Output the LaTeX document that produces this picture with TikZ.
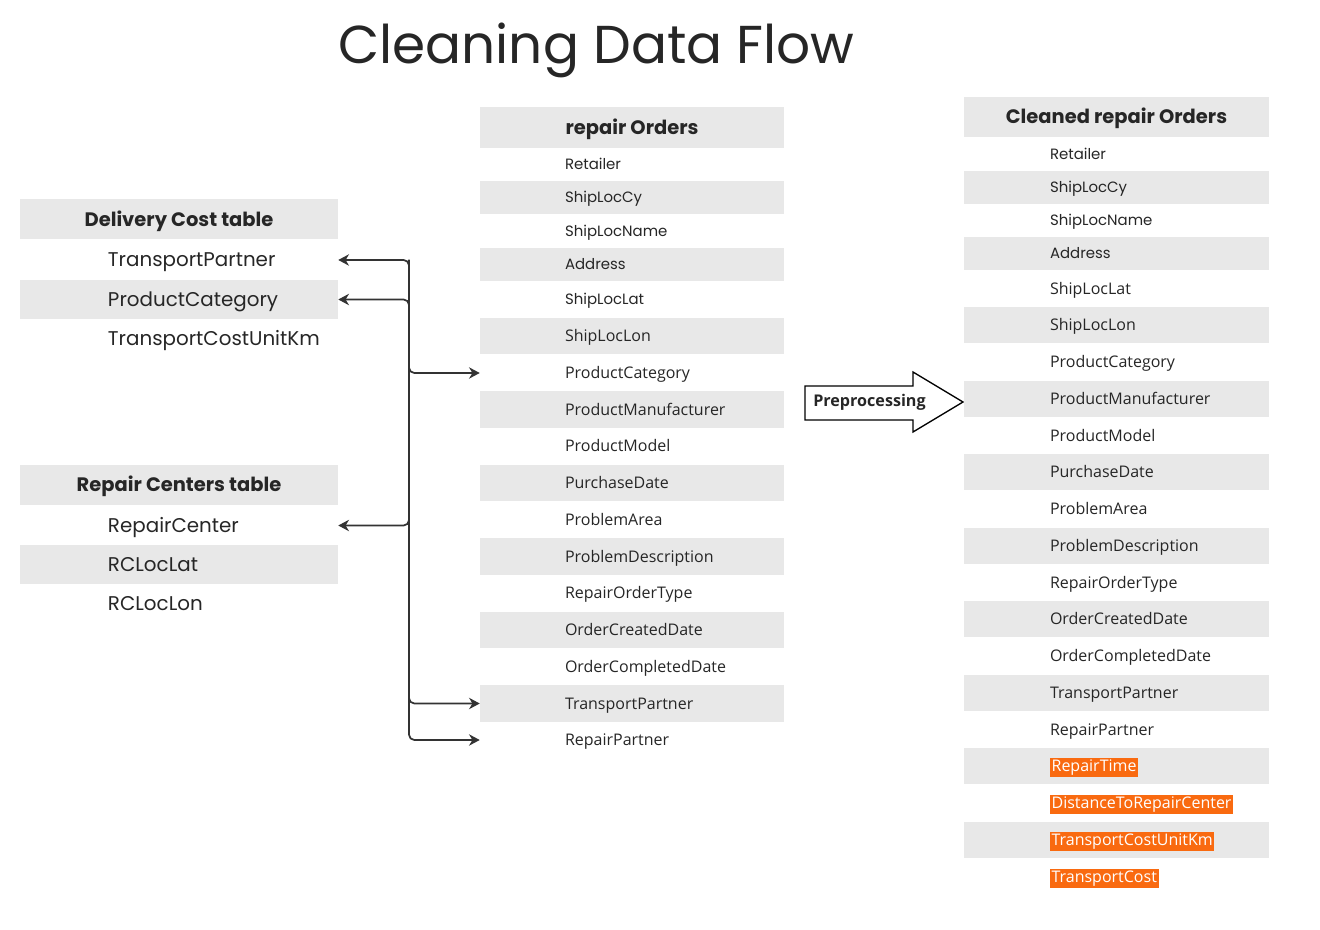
\documentclass[tikz,border=0pt]{standalone}
\usepackage{fontspec}
\setmainfont{Poppins}
\newfontfamily\osfont{Open Sans}
\usetikzlibrary{arrows.meta}
\definecolor{band}{HTML}{E8E8E8}
\definecolor{ink}{HTML}{262626}
\definecolor{hilite}{HTML}{F96A10}
\definecolor{wire}{HTML}{333333}
\newcommand{\hl}[1]{{\setlength{\fboxsep}{1.2pt}\colorbox{hilite}{\color{white}#1}}}

\begin{document}
\begin{tikzpicture}[x=0.75pt,y=-0.75pt,
  hdr/.style={fill=band, inner sep=0pt, minimum height=30pt, text=ink, text height=10.3pt, text depth=0pt, font=\bfseries\fontsize{14.6}{16}\selectfont},
  stripe/.style={fill=band},
  pop/.style={text=ink, text height=7.9pt, text depth=0pt, font=\fontsize{11.2}{13}\selectfont},
  os/.style={text=ink, text height=8.6pt, text depth=0pt, font=\osfont\fontsize{12}{14}\selectfont},
  big/.style={text=ink, text height=10.4pt, text depth=0pt, font=\fontsize{14.9}{16}\selectfont},
  mrow/.style={inner sep=0pt, minimum height=#1, execute at begin node={\hbox to 228pt\bgroup\hspace*{63.75pt}}, execute at end node={\hfil\egroup}},
  mrow/.default=27.5pt,
  rrow/.style={inner sep=0pt, minimum height=#1, execute at begin node={\hbox to 228.75pt\bgroup\hspace*{64.5pt}}, execute at end node={\hfil\egroup}},
  rrow/.default=27.5pt,
  lrow/.style={inner sep=0pt, minimum height=29.6pt, execute at begin node={\hbox to 238.5pt\bgroup\hspace*{66pt}}, execute at end node={\hfil\egroup}},
  flow/.style={draw=wire, line width=1.3pt, rounded corners=4pt, -{Stealth[length=8pt,width=8.5pt,inset=2.5pt]}}]
\useasboundingbox (0,0) rectangle (1320,930);

\node[anchor=base, text=ink, font=\fontsize{40}{44}\selectfont] (title) at (596.5,64) {Cleaning Data Flow};

\node[hdr, minimum width=238.5pt] (dhead) at (179,219.5) {Delivery Cost table};
\node[lrow, big] (dTP) at (179,260) {TransportPartner};
\node[lrow, big, stripe] (dPC) at (179,299.5) {ProductCategory};
\node[lrow, big] (dTC) at (179,339) {TransportCostUnitKm};

\node[hdr, minimum width=238.5pt] (chead) at (179,485) {Repair Centers table};
\node[lrow, big] (cRC) at (179,525.5) {RepairCenter};
\node[lrow, big, stripe] (cLat) at (179,564.5) {RCLocLat};
\node[lrow, big] (cLon) at (179,604) {RCLocLon};

\node[hdr, minimum width=228pt, minimum height=30.75pt] (mhead) at (632,127.5) {repair Orders};
\node[mrow=24.75pt, pop] (mRet) at (632,164.5) {Retailer};
\node[mrow=24.75pt, pop, stripe] (mCy) at (632,197.5) {ShipLocCy};
\node[mrow=24.75pt, pop] (mName) at (632,231) {ShipLocName};
\node[mrow=24.75pt, pop, stripe] (mAdr) at (632,264.5) {Address};
\node[mrow, pop] (mLat) at (632,299.5) {ShipLocLat};
\node[mrow, os, stripe] (mLon) at (632,336) {ShipLocLon};
\node[mrow, os] (mPC) at (632,373) {ProductCategory};
\node[mrow, os, stripe] (mPM) at (632,409.5) {ProductManufacturer};
\node[mrow, os] (mMod) at (632,446) {ProductModel};
\node[mrow, os, stripe] (mPD) at (632,483) {PurchaseDate};
\node[mrow, os] (mPA) at (632,520) {ProblemArea};
\node[mrow, os, stripe] (mDesc) at (632,556.5) {ProblemDescription};
\node[mrow, os] (mROT) at (632,593) {RepairOrderType};
\node[mrow, os, stripe] (mOCr) at (632,630) {OrderCreatedDate};
\node[mrow, os] (mOCo) at (632,666.5) {OrderCompletedDate};
\node[mrow, os, stripe] (mTP) at (632,703.5) {TransportPartner};
\node[mrow, os] (mRP) at (632,740) {RepairPartner};

\draw[line width=1pt, fill=white] (805,386) -- (913,386) -- (913,372) -- (963,402) -- (913,432) -- (913,420) -- (805,420) -- cycle;
\node[text=ink, font=\osfont\bfseries\fontsize{12.1}{14}\selectfont] (prep) at (869.5,402) {Preprocessing};

\node[hdr, minimum width=228.75pt] (rhead) at (1116.5,117) {Cleaned repair Orders};
\node[rrow=25.5pt, pop] (rRet) at (1116.5,154) {Retailer};
\node[rrow=24.75pt, pop, stripe] (rCy) at (1116.5,187.5) {ShipLocCy};
\node[rrow=24.75pt, pop] (rName) at (1116.5,220.5) {ShipLocName};
\node[rrow=24.75pt, pop, stripe] (rAdr) at (1116.5,253.5) {Address};
\node[rrow, os] (rLat) at (1116.5,288.5) {ShipLocLat};
\node[rrow, os, stripe] (rLon) at (1116.5,325) {ShipLocLon};
\node[rrow, os] (rPC) at (1116.5,362) {ProductCategory};
\node[rrow, os, stripe] (rPM) at (1116.5,399) {ProductManufacturer};
\node[rrow, os] (rMod) at (1116.5,435.5) {ProductModel};
\node[rrow, os, stripe] (rPD) at (1116.5,472) {PurchaseDate};
\node[rrow, os] (rPA) at (1116.5,509) {ProblemArea};
\node[rrow, os, stripe] (rDesc) at (1116.5,546) {ProblemDescription};
\node[rrow, os] (rROT) at (1116.5,582.5) {RepairOrderType};
\node[rrow, os, stripe] (rOCr) at (1116.5,619) {OrderCreatedDate};
\node[rrow, os] (rOCo) at (1116.5,656) {OrderCompletedDate};
\node[rrow, os, stripe] (rTP) at (1116.5,693) {TransportPartner};
\node[rrow, os] (rRP) at (1116.5,729.5) {RepairPartner};
\node[rrow, os, stripe] (rRT) at (1116.5,766) {\hl{RepairTime}};
\node[rrow, os] (rDist) at (1116.5,803) {\hl{DistanceToRepairCenter}};
\node[rrow, os, stripe] (rTC) at (1116.5,840) {\hl{TransportCostUnitKm}};
\node[rrow, os] (rCost) at (1116.5,876.5) {\hl{TransportCost}};

\coordinate (bus) at (409,0);
\draw[flow] (bus |- mPC) |- (dTP.east);
\draw[flow] (bus |- mPC) |- (dPC.east);
\draw[flow] (bus |- mPC) |- (cRC.east);
\draw[flow] (bus |- dTP) |- (mPC.west);
\draw[flow] (bus |- dTP) |- (mTP.west);
\draw[flow] (bus |- dTP) |- (mRP.west);
\end{tikzpicture}
\end{document}
